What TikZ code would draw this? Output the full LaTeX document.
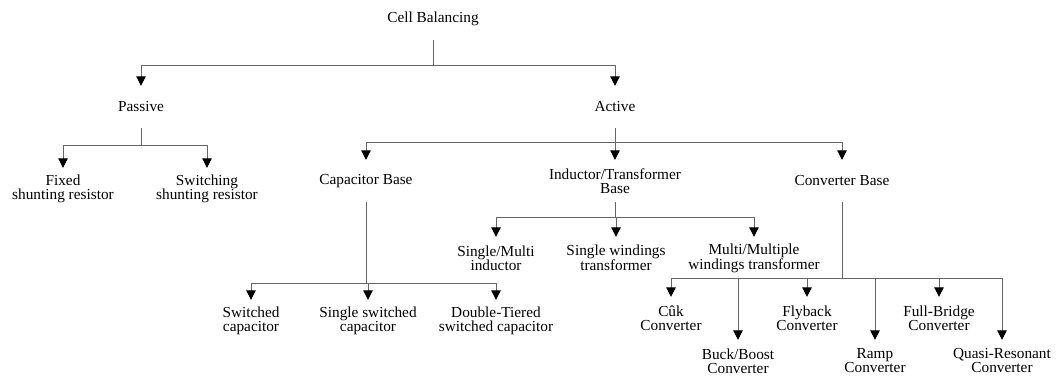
\documentclass[tikz,border=0pt]{standalone}
\usepackage{fontspec}
\setmainfont{Liberation Serif}
\usetikzlibrary{arrows.meta}
\begin{document}
\begin{tikzpicture}[x=1pt,y=-1pt,
  every node/.style={font=\fontsize{15.3}{14}\selectfont, align=center, minimum height=42pt, inner sep=0pt},
  conn/.style={draw=black!60, line width=1pt},
  arr/.style={conn, -{Triangle[width=9.5pt,length=9.5pt,color=black]}}]
\useasboundingbox (0,0) rectangle (1059,375);
\node (cb) at (433,19) {Cell Balancing};
\node (passive) at (141,107) {Passive};
\node (active) at (615,107) {Active};
\node (fixed) at (63,189) {Fixed\\shunting resistor};
\node (switching) at (207,189) {Switching\\shunting resistor};
\node (capb) at (366,181) {Capacitor Base};
\node (indb) at (615,181) {Inductor/Transformer\\Base};
\node (convb) at (842,181) {Converter Base};
\node (swcap) at (251,321) {Switched\\capacitor};
\node (sswcap) at (368,321) {Single switched\\capacitor};
\node (dtcap) at (496,321) {Double-Tiered\\switched capacitor};
\node (smind) at (496,258) {Single/Multi\\inductor};
\node (swtr) at (616,258) {Single windings\\transformer};
\node (mmwtr) at (754,258) {Multi/Multiple\\windings transformer};
\node (cuk) at (671,318) {Cûk\\Converter};
\node (buck) at (738,361) {Buck/Boost\\Converter};
\node (fly) at (807,318) {Flyback\\Converter};
\node (ramp) at (875,361) {Ramp\\Converter};
\node (fb) at (939,318) {Full-Bridge\\Converter};
\node (qr) at (1002,361) {Quasi-Resonant\\Converter};
\foreach \c in {passive,active} \draw[arr] (cb.south) -- ++(0,25) -| (\c.north);
\foreach \c in {fixed,switching} \draw[arr] (passive.south) -- ++(0,17) -| (\c.north);
\foreach \c in {capb,indb,convb} \draw[arr] (active.south) -- ++(0,14.5) -| (\c.north);
\foreach \c in {swcap,sswcap,dtcap} \draw[arr] (capb.south) -- ++(0,81) -| (\c.north);
\foreach \c in {smind,swtr,mmwtr} \draw[arr] (indb.south) -- ++(0,15) -| (\c.north);
\foreach \c in {cuk,buck,fly,ramp,fb,qr} \draw[arr] (convb.south) -- ++(0,76) -| (\c.north);
\end{tikzpicture}
\end{document}
